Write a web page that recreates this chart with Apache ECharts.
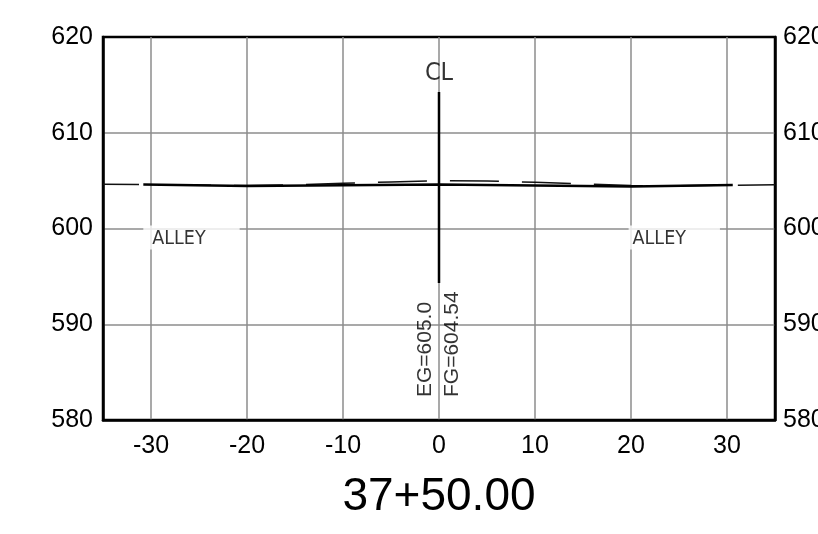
<!DOCTYPE html>
<html>
<head>
<meta charset="utf-8">
<script src="https://cdn.jsdelivr.net/npm/echarts@6/dist/echarts.min.js"></script>
<style>
html,body{margin:0;padding:0;background:#fff;}
#c{width:818px;height:534px;}
</style>
</head>
<body>
<div id="c"></div>
<script>
// ---- data ----
const STATION = '37+50.00';
const X_TICKS = [-30, -20, -10, 0, 10, 20, 30];
const Y_TICKS = [580, 590, 600, 610, 620];
// existing ground (dashed)
const EG_X = [-35, -30, -20, -15, -10, -5, 0, 5, 10, 15, 20, 25, 30, 35];
const EG_Y = [604.62, 604.58, 604.48, 604.57, 604.72, 604.86, 605.0, 604.96, 604.83, 604.66, 604.48, 604.47, 604.52, 604.56];
// finished grade (solid)
const FG_X = [-30.8, -20, 0, 20, 30.6];
const FG_Y = [604.6, 604.44, 604.6, 604.38, 604.55];
// centerline
const CL_X = [0, 0];
const CL_Y = [594.3, 614.25];
// annotations
const CL_TEXT = 'CL'; const CL_POS = [0, 616.2];
const ALLEY_TEXT = 'ALLEY';
const ALLEY_POS = [[-30.8, 600], [19.75, 600]];
const ELEV_TEXT = ['EG=605.0', 'FG=604.54'];
const ELEV_POS = [[-1.44, 582.4], [1.38, 582.4]];

const FONT = "'Liberation Sans', Arial, sans-serif";
const NARROW = "'Liberation Sans Narrow', 'Arial Narrow', 'DejaVu Sans Condensed', sans-serif";

const zip = (a, b) => a.map((v, i) => [v, b[i]]);

const chart = echarts.init(document.getElementById('c'), null, {renderer: 'canvas'});

const gridColor = '#8c8c8c';

chart.setOption({
  animation: false,
  backgroundColor: '#fff',
  grid: {left: 103, right: 43, top: 37, bottom: 114, containLabel: false, outerBoundsMode: 'none',
    show: true, borderColor: '#000', borderWidth: 2.5, backgroundColor: 'transparent'},
  xAxis: {
    type: 'value', min: -35, max: 35, interval: 5,
    name: STATION, nameLocation: 'middle', nameGap: 54,
    nameTextStyle: {fontSize: 46, fontFamily: FONT, color: '#000'},
    axisLine: {show: true, onZero: false, lineStyle: {color: '#000', width: 2.5}},
    axisTick: {show: false, customValues: X_TICKS},
    axisLabel: {customValues: X_TICKS, fontSize: 25, fontFamily: FONT, color: '#000', margin: 14},
    splitLine: {show: true, lineStyle: {color: gridColor, width: 1.5}}
  },
  yAxis: [{
    type: 'value', min: 580, max: 620, interval: 10, position: 'left',
    axisLine: {show: true, onZero: false, lineStyle: {color: '#000', width: 2.5}},
    axisTick: {show: false},
    axisLabel: {fontSize: 25, fontFamily: FONT, color: '#000', margin: 10},
    splitLine: {show: true, showMinLine: false, showMaxLine: false, lineStyle: {color: gridColor, width: 1.5}}
  }, {
    type: 'value', min: 580, max: 620, interval: 10, position: 'right',
    axisLine: {show: true, onZero: false, lineStyle: {color: '#000', width: 2.5}},
    axisTick: {show: false},
    axisLabel: {fontSize: 25, fontFamily: FONT, color: '#000', margin: 8},
    splitLine: {show: false}
  }],
  series: [
    {
      name: 'EG', type: 'line', data: zip(EG_X, EG_Y), symbol: 'none', z: 3,
      lineStyle: {color: '#111', width: 1.5, type: [49, 23], dashOffset: 13}
    },
    {
      name: 'FG', type: 'line', data: zip(FG_X, FG_Y), symbol: 'none', z: 4,
      lineStyle: {color: '#000', width: 2.5}
    },
    {
      name: 'CLline', type: 'line', data: zip(CL_X, CL_Y), symbol: 'none', z: 4,
      lineStyle: {color: '#000', width: 2.5}
    },
    {
      name: 'CL', type: 'scatter', symbolSize: 0, z: 5, silent: true,
      data: [CL_POS],
      label: {show: true, position: [0, 0], align: 'center', verticalAlign: 'middle',
        formatter: CL_TEXT, fontSize: 25, fontFamily: NARROW, color: '#000'}
    },
    {
      name: 'ALLEY', type: 'scatter', symbolSize: 0, z: 5, silent: true,
      data: [
        {value: ALLEY_POS[0], label: {padding: [3, 34, 1, 9]}},
        {value: ALLEY_POS[1], label: {padding: [3, 34, 1, 4]}}
      ],
      label: {show: true, position: [0, -3], align: 'left', verticalAlign: 'top',
        formatter: ALLEY_TEXT, fontSize: 19.5, fontFamily: NARROW, color: '#000',
        backgroundColor: '#fff'}
    },
    {
      name: 'ELEV', type: 'scatter', symbolSize: 0, z: 5, silent: true,
      data: ELEV_POS.map((p, i) => ({value: p, label: {formatter: ELEV_TEXT[i]}})),
      label: {show: true, position: [0, 0], rotate: 90, align: 'left', verticalAlign: 'middle',
        fontSize: 21, fontFamily: FONT, color: '#000'}
    }
  ]
});
</script>
</body>
</html>
